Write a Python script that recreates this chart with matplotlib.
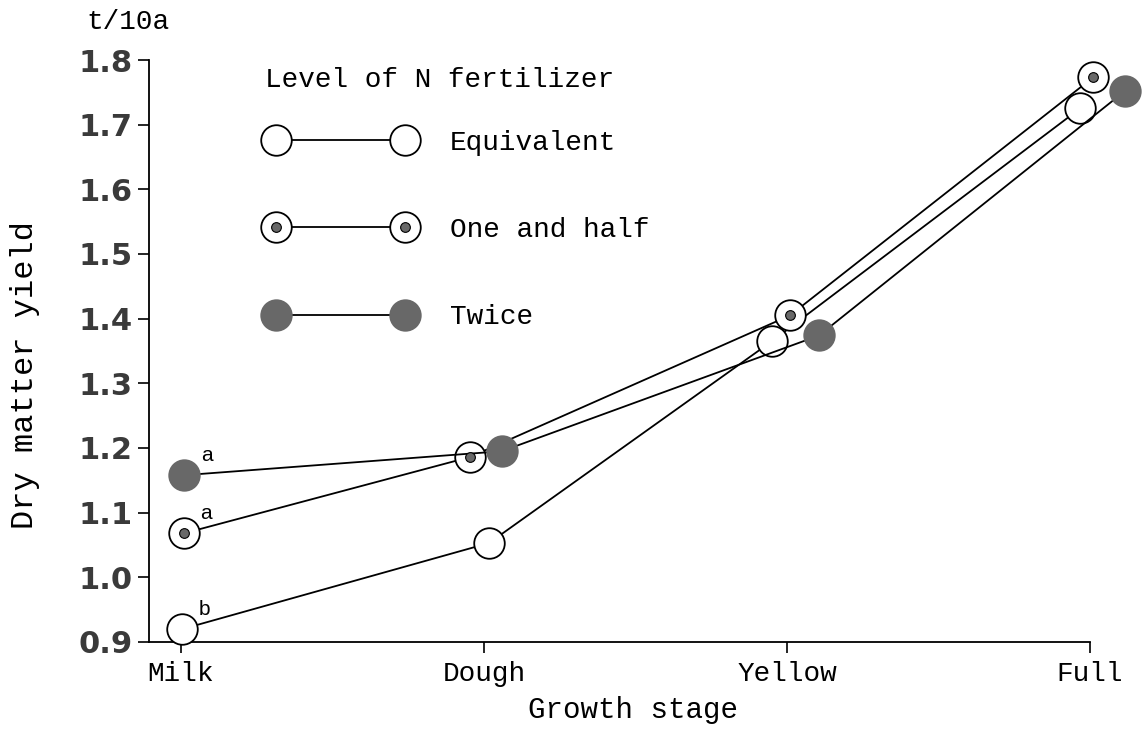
import numpy as np
import matplotlib.pyplot as plt
from matplotlib.legend_handler import HandlerTuple

# data
stages = ['Milk', 'Dough', 'Yellow', 'Full']
equivalent = [0.92, 1.053, 1.365, 1.725]
one_and_half = [1.068, 1.186, 1.405, 1.773]
twice = [1.158, 1.195, 1.374, 1.752]
milk_letters = ['b', 'a', 'a']  # equivalent, one and half, twice

# small sideways shifts so circles don't hide each other
dodge_eq = np.array([0.005, 0.017, -0.05, -0.033])
dodge_oh = np.array([0.01, -0.046, 0.01, 0.01])
dodge_tw = np.array([0.012, 0.059, 0.106, 0.115])

mono = 'Liberation Mono'
gris = '#686868'
ms = 22
lw = 1.3

fig = plt.figure(figsize=(11.47, 7.31), dpi=100)
ax = fig.add_axes([149/1147, 1 - 642/731, (1090 - 149)/1147, (642 - 60)/731])

x = np.arange(len(stages))

l_eq, = ax.plot(x + dodge_eq, equivalent, color='black', lw=lw, marker='o', ms=ms,
                mfc='white', mec='black', mew=lw, clip_on=False, zorder=3)
l_oh, = ax.plot(x + dodge_oh, one_and_half, color='black', lw=lw, marker='o', ms=ms,
                mfc='white', mec='black', mew=lw, clip_on=False, zorder=3)
d_oh, = ax.plot(x + dodge_oh, one_and_half, ls='none', marker='o', ms=7,
                mfc=gris, mec='black', mew=0.8, clip_on=False, zorder=4)
l_tw, = ax.plot(x + dodge_tw, twice, color='black', lw=lw, marker='o', ms=ms,
                mfc=gris, mec=gris, mew=lw, clip_on=False, zorder=3)

# significance letters at Milk
for serie, dx, let in zip([equivalent, one_and_half, twice], [dodge_eq, dodge_oh, dodge_tw], milk_letters):
    ax.annotate(let, (x[0] + dx[0], serie[0]), xytext=(12, 10), textcoords='offset points',
                fontsize=15, family='Liberation Sans')

ax.set_xlim(-0.105, 3.0)
ax.set_ylim(0.9, 1.8)
ax.set_xticks(x)
ax.set_xticklabels(stages, family=mono, fontsize=20)
ax.set_yticks(np.arange(0.9, 1.81, 0.1))
ax.set_yticklabels([f'{v:.1f}' for v in np.arange(0.9, 1.81, 0.1)],
                   fontsize=22, fontweight='bold', color='#3a3a3a')
ax.tick_params(axis='both', direction='out', length=8, width=1.2, pad=4)
ax.tick_params(axis='x', pad=6)

for s in ['top', 'right']:
    ax.spines[s].set_visible(False)
ax.spines['left'].set_linewidth(1.3)
ax.spines['bottom'].set_linewidth(1.3)

ax.set_xlabel('Growth stage', family=mono, fontsize=21, va='center')
ax.xaxis.set_label_coords(0.514, -0.117)
ax.set_ylabel('Dry matter yield', family=mono, fontsize=23, va='center')
ax.yaxis.set_label_coords(-0.132, 0.459)
fig.text(128/1147, 1 - 22/731, 't/10a', family=mono, fontsize=20, ha='center', va='center')

# legend
fig.text(265/1147, 1 - 80/731, 'Level of N fertilizer', family=mono, fontsize=20,
         ha='left', va='center')
ax.legend([l_eq, (l_oh, d_oh), l_tw], ['Equivalent', 'One and half', 'Twice'],
          handler_map={tuple: HandlerTuple(ndivide=1)}, numpoints=2,
          prop={'family': mono, 'size': 20}, frameon=False, loc='upper left',
          bbox_to_anchor=(268/1147, 1 - 130/731), bbox_transform=fig.transFigure,
          borderpad=0, borderaxespad=0, handlelength=5.24, handletextpad=1.3,
          labelspacing=2.2)

plt.savefig('out.png', dpi=100)
